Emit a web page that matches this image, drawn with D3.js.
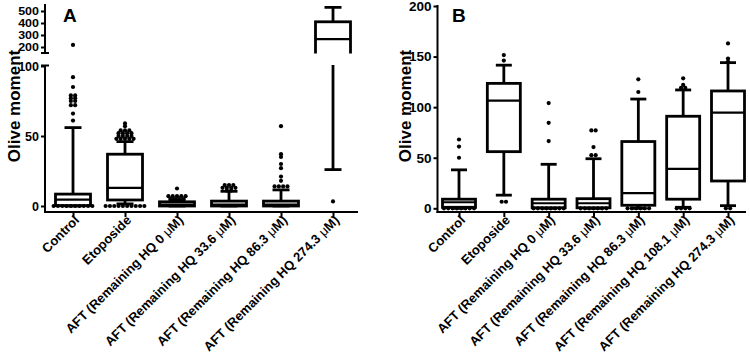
<!DOCTYPE html>
<html>
<head>
<meta charset="utf-8">
<script src="https://cdn.jsdelivr.net/npm/d3@7"></script>
<style>
body { margin: 0; background: #fff; }
text { font-family: "Liberation Sans", Arial, sans-serif; font-weight: bold; fill: #000; }
</style>
</head>
<body>
<div id="chart"></div>
<script>
// ---- data ----
const catsA = ["Control", "Etoposide", "AFT (Remaining HQ 0 μM)", "AFT (Remaining HQ 33.6 μM)",
    "AFT (Remaining HQ 86.3 μM)", "AFT (Remaining HQ 274.3 μM)"];
const q1A  = [0.3, 4.3, 0, 0, 0, 120];
const medA = [4.5, 13, 1, 1, 1, 265];
const q3A  = [8.5, 37, 3, 3.5, 3.5, 410];
const loA  = [0, 1.5, 0, 0, 0, 26];
const hiA  = [56, 46, 4.5, 10.5, 11.5, 530];
const outA = [
    [217, 92, 85, 79, 78, 77, 76, 75, 74, 72, 71, 66, 61, 0, 0, 0, 0, 0, 0, 0, 0, 0, 0],
    [59, 57, 54, 53, 53, 52, 52, 51, 51, 50, 50, 49, 49, 48, 48, 47, 47, 47, 0, 0, 0, 0, 0, 0, 0, 0, 0, 0],
    [12.5, 7, 6, 6, 5.5, 5.5, 5, 5, 5, 5],
    [15, 14, 13.5, 13, 12.5, 12, 11.5, 11, 11],
    [57, 37, 35, 30, 27, 21, 18, 14, 13, 13, 12.5],
    [3.3]
];

const catsB = ["Control", "Etoposide", "AFT (Remaining HQ 0 μM)", "AFT (Remaining HQ 33.6 μM)",
    "AFT (Remaining HQ 86.3 μM)", "AFT (Remaining HQ 108.1 μM)", "AFT (Remaining HQ 274.3 μM)"];
const q1B  = [1, 56, 0.5, 0.5, 3, 9, 27];
const medB = [6, 106.5, 5, 5, 15, 39, 94.5];
const q3B  = [9, 123.5, 9, 9.5, 66, 91, 116];
const loB  = [0, 13, 0, 0, 0, 1, 2.6];
const hiB  = [38, 141.5, 43.5, 49, 108, 117, 144];
const outB = [
    [68, 61, 50, 0, 0, 0, 0, 0, 0, 0, 0],
    [151.5, 146, 6.5, 4],
    [104, 84.5, 66.5, 0, 0, 0, 0, 0, 0, 0, 0],
    [77, 76, 60.5, 52.5, 51.5, 0, 0, 0, 0, 0, 0, 0],
    [127.5, 115, 0, 0, 0, 0, 0, 0],
    [128.5, 122, 119, 118, 0, 0, 0, 0],
    [163, 148, 145, 0, 0]
];

const yTicksA_low = [0, 50, 100];
const yTicksA_high = [200, 300, 400, 500];
const yTicksB = [0, 50, 100, 150, 200];

const svg = d3.select("#chart").append("svg")
    .attr("width", 750)
    .attr("height", 362);

// one box (no outliers)
let drawBox = function(g, x, y, s, half, cap) {
    g.append("line").attr("x1", x).attr("x2", x).attr("y1", y(s.q3)).attr("y2", y(s.hi));
    g.append("line").attr("x1", x).attr("x2", x).attr("y1", y(s.q1)).attr("y2", y(s.lo));
    g.append("line").attr("x1", x - cap).attr("x2", x + cap).attr("y1", y(s.hi)).attr("y2", y(s.hi));
    g.append("line").attr("x1", x - cap).attr("x2", x + cap).attr("y1", y(s.lo)).attr("y2", y(s.lo));
    g.append("rect")
        .attr("x", x - half).attr("width", half * 2)
        .attr("y", y(s.q3)).attr("height", Math.max(0, y(s.q1) - y(s.q3)))
        .attr("fill", "#fff");
    g.append("line").attr("x1", x - half).attr("x2", x + half).attr("y1", y(s.med)).attr("y2", y(s.med))
        .attr("stroke-width", 2.2);
}

// spread outliers that sit on the same level side by side
let drawDots = function(g, x, yf, vals) {
    let pts = vals.map(v => yf(v)).sort((a, b) => a - b);
    let rows = [];
    pts.forEach(p => {
        let r = rows.find(r => Math.abs(r.y - p) < 2.6);
        if (r) r.n++; else rows.push({y: p, n: 1});
    });
    rows.forEach(r => {
        for (let i = 0; i < r.n; i++) {
            g.append("circle")
                .attr("cx", x + (i - (r.n - 1) / 2) * 4.3)
                .attr("cy", r.y)
                .attr("r", 2.1)
                .attr("fill", "#000");
        }
    });
}

let styleAxis = function(g, size) {
    g.select(".domain").remove();
    g.selectAll(".tick line").attr("stroke", "#000").attr("stroke-width", 2);
    g.selectAll(".tick text").attr("font-size", size + "px")
        .attr("font-family", "Liberation Sans, Arial, sans-serif")
        .attr("font-weight", "bold");
}

let xLabels = function(g, x, cats, y0) {
    cats.forEach(c => {
        let t = g.append("text")
            .attr("text-anchor", "end")
            .attr("font-size", "13px")
            .attr("transform", "translate(" + (x(c) + 7) + "," + y0 + ") rotate(-45)");
        let parts = c.split("μ");
        t.append("tspan").text(parts[0]);
        if (parts.length > 1) {
            t.append("tspan").attr("font-weight", "normal").text("μ");
            t.append("tspan").text(parts[1]);
        }
    });
}

// ================= panel A =================
const xA = d3.scalePoint().domain(catsA).range([73, 333]);
const yLow = d3.scaleLinear().domain([0, 100]).range([206, 66]);
const yHigh = d3.scaleLinear().domain([150, 550]).range([53, 5]);
const yPiece = v => v <= 125 ? yLow(v) : yHigh(v);

const defs = svg.append("defs");
defs.append("clipPath").attr("id", "clipLow").append("rect")
    .attr("x", 0).attr("y", 65).attr("width", 420).attr("height", 160);
defs.append("clipPath").attr("id", "clipHigh").append("rect")
    .attr("x", 0).attr("y", 0).attr("width", 420).attr("height", 53.5);

const gA = svg.append("g");
[[yLow, "clipLow"], [yHigh, "clipHigh"]].forEach(seg => {
    let g = gA.append("g")
        .attr("clip-path", "url(#" + seg[1] + ")")
        .attr("stroke", "#000").attr("stroke-width", 2.8).attr("fill", "none");
    catsA.forEach((c, i) => {
        drawBox(g, xA(c), seg[0], {q1: q1A[i], med: medA[i], q3: q3A[i], lo: loA[i], hi: hiA[i]}, 17.5, 8.5);
    });
});
catsA.forEach((c, i) => drawDots(gA, xA(c), yPiece, outA[i]));

// axes A
const axA = svg.append("g").attr("stroke", "#000").attr("stroke-width", 2);
axA.append("line").attr("x1", 45).attr("x2", 45).attr("y1", 65).attr("y2", 213);
axA.append("line").attr("x1", 45).attr("x2", 45).attr("y1", 4).attr("y2", 53);
axA.append("line").attr("x1", 41).attr("x2", 49).attr("y1", 53).attr("y2", 53);
axA.append("line").attr("x1", 41).attr("x2", 49).attr("y1", 65.5).attr("y2", 65.5);
axA.append("line").attr("x1", 44).attr("x2", 358).attr("y1", 212).attr("y2", 212);

svg.append("g").attr("transform", "translate(45,0)")
    .call(d3.axisLeft(yLow).tickValues(yTicksA_low).tickSize(4).tickPadding(2))
    .call(styleAxis, 12.5);
svg.append("g").attr("class", "squeeze").attr("transform", "translate(45,0)")
    .call(d3.axisLeft(yHigh).tickValues(yTicksA_high).tickSize(4).tickPadding(2))
    .call(styleAxis, 12.5);
// the upper labels sit close together: flatten them a little
svg.selectAll(".squeeze .tick text").attr("transform", "scale(1,0.8)");
svg.append("g").attr("transform", "translate(0,212)")
    .call(d3.axisBottom(xA).tickSize(5).tickFormat(""))
    .call(styleAxis, 12);
xLabels(svg.append("g"), xA, catsA, 221);

svg.append("text").attr("x", 63).attr("y", 22).attr("font-size", "19px").text("A");
svg.append("text").attr("transform", "translate(20,106) rotate(-90)")
    .attr("text-anchor", "middle").attr("font-size", "17px").text("Olive moment");

// ================= panel B =================
const xB = d3.scalePoint().domain(catsB).range([459, 728]);
const yB = d3.scaleLinear().domain([0, 200]).range([208.3, 6]);

const gB = svg.append("g");
const gBoxB = gB.append("g").attr("stroke", "#000").attr("stroke-width", 2.8).attr("fill", "none");
catsB.forEach((c, i) => {
    drawBox(gBoxB, xB(c), yB, {q1: q1B[i], med: medB[i], q3: q3B[i], lo: loB[i], hi: hiB[i]}, 16.5, 8);
});
catsB.forEach((c, i) => drawDots(gB, xB(c), yB, outB[i]));

const axB = svg.append("g").attr("stroke", "#000").attr("stroke-width", 2);
axB.append("line").attr("x1", 437.5).attr("x2", 437.5).attr("y1", 5).attr("y2", 213);
axB.append("line").attr("x1", 436.5).attr("x2", 746).attr("y1", 212).attr("y2", 212);

svg.append("g").attr("transform", "translate(437.5,0)")
    .call(d3.axisLeft(yB).tickValues(yTicksB).tickSize(4).tickPadding(2))
    .call(styleAxis, 13.5);
svg.append("g").attr("transform", "translate(0,212)")
    .call(d3.axisBottom(xB).tickSize(5).tickFormat(""))
    .call(styleAxis, 12);
xLabels(svg.append("g"), xB, catsB, 221);

svg.append("text").attr("x", 452).attr("y", 22).attr("font-size", "19px").text("B");
svg.append("text").attr("transform", "translate(411,106) rotate(-90)")
    .attr("text-anchor", "middle").attr("font-size", "17px").text("Olive moment");
</script>
</body>
</html>
